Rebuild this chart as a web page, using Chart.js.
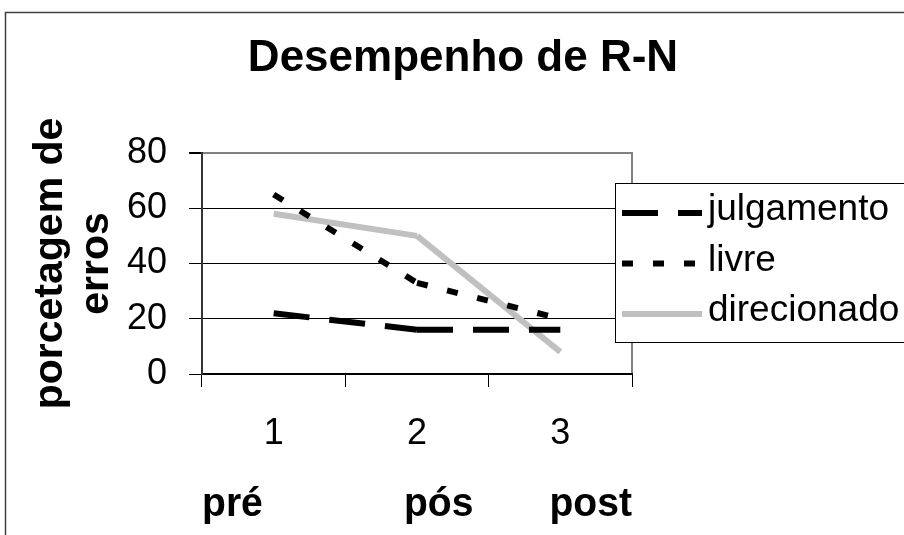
<!DOCTYPE html>
<html>
<head>
<meta charset="utf-8">
<script src="https://cdn.jsdelivr.net/npm/chart.js@4"></script>
<style>
  body { margin: 0; background: #fff; }
  canvas { display: block; }
</style>
</head>
<body>
<canvas id="chart" width="904" height="535"></canvas>
<script>
const categories = ["1", "2", "3"];
const julgamento = [22, 16, 16];
const livre = [65, 33, 20];
const direcionado = [58, 50, 8];
const yTicks = [0, 20, 40, 60, 80];

const chartTitle = "Desempenho de R-N";
const yTitle = ["porcetagem de", "erros"];
const xTitle = "pré" + " ".repeat(13) + "pós" + " ".repeat(7) + "post";

const FONT = "'Liberation Sans', Arial, sans-serif";
const yMax = yTicks[yTicks.length - 1];

// moldura externa + borda cinza da área de plotagem
const frame = {
  id: "frame",
  beforeDraw(chart) {
    const { ctx, chartArea: a } = chart;
    ctx.save();
    ctx.strokeStyle = "#404040";
    ctx.lineWidth = 1.5;
    ctx.beginPath();
    ctx.moveTo(5.5, chart.height);
    ctx.lineTo(5.5, 12.5);
    ctx.lineTo(chart.width, 12.5);
    ctx.stroke();
    ctx.strokeStyle = "#808080";
    ctx.lineWidth = 2;
    ctx.strokeRect(a.left, a.top, a.right - a.left, a.bottom - a.top);
    ctx.restore();
  }
};

// legenda com caixa, sobreposta à borda direita do gráfico
const boxLegend = {
  id: "boxLegend",
  afterDraw(chart) {
    const ctx = chart.ctx;
    const left = 615, top = 183, height = 159;
    ctx.save();
    ctx.fillStyle = "#fff";
    ctx.fillRect(left, top, chart.width - left + 10, height);
    ctx.strokeStyle = "#000";
    ctx.lineWidth = 1;
    ctx.strokeRect(left + 0.5, top + 0.5, chart.width, height);
    ctx.font = "37px " + FONT;
    ctx.textBaseline = "middle";
    chart.data.datasets.forEach((ds, i) => {
      const y = top + 30 + i * 50.5;
      ctx.strokeStyle = ds.borderColor;
      ctx.lineWidth = ds.borderWidth;
      ctx.setLineDash(ds.borderDash || []);
      ctx.beginPath();
      ctx.moveTo(left + 7, y);
      ctx.lineTo(left + 87, y);
      ctx.stroke();
      ctx.setLineDash([]);
      ctx.fillStyle = "#000";
      ctx.fillText(ds.label, left + 93, y - 3);
    });
    ctx.restore();
  }
};

new Chart(document.getElementById("chart"), {
  type: "line",
  data: {
    labels: categories,
    datasets: [
      { label: "julgamento", data: julgamento, borderColor: "#000", borderWidth: 6, borderDash: [36, 20] },
      { label: "livre", data: livre, borderColor: "#000", borderWidth: 6, borderDash: [11, 20] },
      { label: "direcionado", data: direcionado, borderColor: "#c0c0c0", borderWidth: 6 }
    ]
  },
  options: {
    responsive: false,
    animation: false,
    layout: { padding: { left: 22, right: 0, top: 8, bottom: 0 } },
    elements: {
      point: { radius: 0, hoverRadius: 0 },
      line: { tension: 0, borderCapStyle: "butt" }
    },
    // cada trecho recomeça o tracejado, como no original
    datasets: {
      line: { segment: { borderDashOffset: (c) => c.p0DataIndex * 0.01 } }
    },
    plugins: {
      legend: { display: false },
      tooltip: { enabled: false },
      title: {
        display: true,
        text: chartTitle,
        color: "#000",
        font: { family: FONT, size: 44, weight: "bold", lineHeight: 1.2 },
        padding: { top: 24.6, bottom: 67.6 }
      }
    },
    scales: {
      x: {
        offset: true,
        grid: { offset: true, drawOnChartArea: false, tickLength: 13, color: "#000" },
        border: { color: "#000", width: 2 },
        ticks: { padding: 25, color: "#000", maxRotation: 0, font: { family: FONT, size: 36 } },
        title: {
          display: true,
          text: xTitle,
          color: "#000",
          font: { family: FONT, size: 41, weight: "bold", lineHeight: 1.2 },
          padding: { top: 0, bottom: 6 }
        },
        afterFit: (s) => { s.height = 161; }
      },
      y: {
        min: yTicks[0],
        max: yMax,
        ticks: {
          stepSize: yTicks[1] - yTicks[0],
          padding: 22,
          color: "#000",
          font: { family: FONT, size: 36 }
        },
        grid: {
          color: (c) => (c.tick && c.tick.value === yMax ? "#808080" : "#000"),
          lineWidth: (c) => (c.tick && c.tick.value === yMax ? 2 : 1),
          tickColor: "#000",
          tickLength: 13
        },
        border: { color: "#333", width: 2 },
        title: {
          display: true,
          text: yTitle,
          color: "#000",
          font: { family: FONT, size: 41, weight: "bold", lineHeight: 46 / 41 },
          padding: { top: 6, bottom: 0 }
        },
        afterFit: (s) => { s.width = 180; }
      },
      y2: {
        position: "right",
        ticks: { display: false },
        grid: { display: false },
        border: { display: false },
        afterFit: (s) => { s.width = 272; }
      }
    }
  },
  plugins: [frame, boxLegend]
});
</script>
</body>
</html>
